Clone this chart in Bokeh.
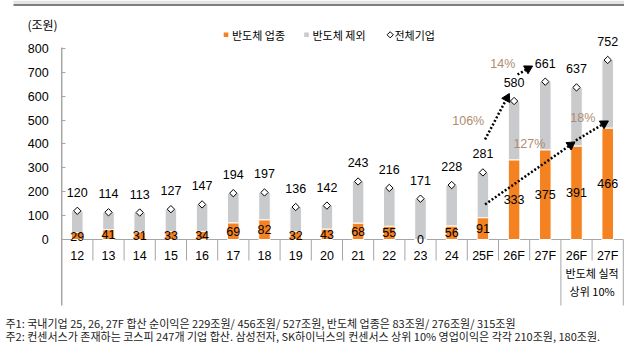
import numpy as np
from bokeh.plotting import figure
from bokeh.models import Range1d, FixedTicker, ColumnDataSource
from bokeh.core.properties import value
from bokeh.embed import file_html
from bokeh.resources import INLINE

# ---------------- data ----------------
categories = ["12", "13", "14", "15", "16", "17", "18", "19", "20", "21", "22", "23", "24",
              "25F", "26F", "27F", "26F", "27F"]
semi = [29, 41, 31, 33, 34, 69, 82, 32, 43, 68, 55, 0, 56, 91, 333, 375, 391, 466]
total = [120, 114, 113, 127, 147, 194, 197, 136, 142, 243, 216, 171, 228, 281, 580, 661, 637, 752]
y_ticks = [0, 100, 200, 300, 400, 500, 600, 700, 800]
legend_labels = ["반도체 업종", "반도체 제외", "전체기업"]
unit_label = "(조원)"
group_label = ["반도체 실적", "상위 10%"]
group_first = 16          # index of first category of the "top 10%" group
group_last = 17
growth_labels = ["106%", "14%", "127%", "18%"]
growth_x = [13.03, 14.14, 14.99, 16.70]
growth_y = [498, 737, 402, 507]
arrow_x0 = [13.57, 14.61, 13.57, 16.48]
arrow_y0 = [419, 691, 147, 415]
arrow_x1 = [14.33, 15.06, 16.42, 17.49]
arrow_y1 = [607, 724, 406, 494]
notes = [
    "주1: 국내기업 25, 26, 27F 합산 순이익은 229조원/ 456조원/ 527조원, 반도체 업종은 83조원/ 276조원/ 315조원",
    "주2: 컨센서스가 존재하는 코스피 247개 기업 합산. 삼성전자, SK하이닉스의 컨센서스 상위 10% 영업이익은 각각 210조원, 180조원.",
]

# ---------------- style / layout ----------------
ORANGE = "#F58220"
GRAY = "#C9CACC"
AXIS = "#A6A6A6"
TAN = "#B08C6E"
NUM_FONT = value("Liberation Sans")
KR_FONT = value("Noto Sans CJK KR")

W, H = 624, 344
X0_PX, CAT_PX = 61.2, 31.2        # pixel of category-axis origin, pixels per category
Y0_PX, VAL_PX = 239.0, 0.23876    # pixel of value 0, pixels per unit


def px2x(px):
    return (px - X0_PX) / CAT_PX


def px2y(py):
    return (Y0_PX - py) / VAL_PX


n = len(categories)
p = figure(width=W, height=H, output_backend="svg", toolbar_location=None,
           x_range=Range1d(px2x(0), px2x(W)), y_range=Range1d(px2y(H), px2y(0)),
           min_border=0, min_border_left=0, min_border_right=0,
           min_border_top=0, min_border_bottom=0)
p.grid.visible = False
p.outline_line_color = None
p.background_fill_color = "white"
p.border_fill_color = "white"

# decorative header rule
p.quad(left=[px2x(13)], right=[px2x(W)], top=[px2y(0)], bottom=[px2y(3.5)],
       fill_color="#E4E4E4", line_color=None)
p.quad(left=[px2x(13)], right=[px2x(W)], top=[px2y(3.5)], bottom=[px2y(5.5)],
       fill_color="#7F7F7F", line_color=None)

axis_bottom = px2y(305)

# y axis (library axis fixed at x = 0)
ya = p.yaxis[0]
ya.fixed_location = 0
ya.ticker = FixedTicker(ticks=y_ticks)
ya.axis_line_color = None
ya.major_tick_line_color = AXIS
ya.major_tick_line_width = 1
ya.major_tick_in = 4
ya.major_tick_out = 0
ya.minor_tick_line_color = None
ya.major_label_standoff = 13
ya.major_label_text_font = "Liberation Sans"
ya.major_label_text_font_size = "12.5px"
ya.major_label_text_color = "black"
p.segment(x0=[0], y0=[axis_bottom], x1=[0], y1=[max(y_ticks) + 4],
          line_color=AXIS, line_width=1.5)

# x axis (library axis fixed at y = 0)
xs = [i + 0.5 for i in range(n)]
xa = p.xaxis[0]
xa.fixed_location = 0
xa.ticker = FixedTicker(ticks=xs)
xa.major_label_overrides = {x: c for x, c in zip(xs, categories)}
xa.axis_line_color = None
xa.major_tick_line_color = None
xa.minor_tick_line_color = None
xa.major_tick_out = 0
xa.major_tick_in = 0
xa.major_label_standoff = 9
xa.major_label_text_font = "Liberation Sans"
xa.major_label_text_font_size = "12.5px"
xa.major_label_text_color = "black"
p.segment(x0=[0], y0=[0], x1=[n], y1=[0], line_color=AXIS, line_width=1)

# separators between categories
bx = list(range(1, n + 1))
long_set = {group_first, n}
sy1 = [axis_bottom if b in long_set else px2y(260) for b in bx]
p.segment(x0=bx, y0=[0] * len(bx), x1=bx, y1=sy1, line_color=AXIS, line_width=1)

src = ColumnDataSource(dict(x=xs, semi=semi, total=total,
                            semi_mid=[s / 2 for s in semi],
                            semi_txt=[str(s) for s in semi],
                            total_txt=[str(t) for t in total]))

BW = 0.37
p.vbar(x="x", bottom="semi", top="total", width=BW, source=src,
       fill_color=GRAY, line_color="white", line_width=1)
p.vbar(x="x", bottom=0, top="semi", width=BW, source=src,
       fill_color=ORANGE, line_color="white", line_width=1)

p.scatter(x="x", y="total", source=src, marker="square", angle=np.pi / 4, size=5.2,
          fill_color="white", line_color="black", line_width=1)

p.text(x="x", y="total", text="total_txt", source=src, y_offset=-18.5,
       text_align="center", text_baseline="middle", text_font=NUM_FONT,
       text_font_size="12.5px", text_color="black")
p.text(x="x", y="semi_mid", text="semi_txt", source=src,
       text_align="center", text_baseline="middle", text_font=NUM_FONT,
       text_font_size="12.5px", text_color="black")

# growth arrows: dotted shafts + triangular heads
HEAD = 4.0  # px from tip back to head centre
hx, hy, ha, sx1, sy1a = [], [], [], [], []
for x0, y0, x1, y1 in zip(arrow_x0, arrow_y0, arrow_x1, arrow_y1):
    dxp = (x1 - x0) * CAT_PX
    dyp = (y1 - y0) * VAL_PX
    L = np.hypot(dxp, dyp)
    ux, uy = dxp / L, dyp / L
    hx.append(x1 - ux * HEAD / CAT_PX)
    hy.append(y1 - uy * HEAD / VAL_PX)
    ha.append(np.arctan2(dyp, dxp) - np.pi / 2)
    sx1.append(x1 - ux * 6 / CAT_PX)
    sy1a.append(y1 - uy * 6 / VAL_PX)
p.segment(x0=arrow_x0, y0=arrow_y0, x1=sx1, y1=sy1a, line_color="black",
          line_width=2.5, line_dash="2 2")
p.scatter(x=hx, y=hy, angle=ha, marker="triangle", size=9,
          fill_color="black", line_color="black", line_width=1)
p.text(x=growth_x, y=growth_y, text=growth_labels, text_align="center",
       text_baseline="middle", text_font=NUM_FONT, text_font_size="12.5px", text_color=TAN)

# group label below the axis
gx = (group_first + group_last + 1) / 2
p.text(x=[gx, gx], y=[px2y(272), px2y(290)], text=group_label, text_align="center",
       text_baseline="middle", text_font=KR_FONT, text_font_size="11px", text_color="black")

# unit label
p.text(x=[px2x(42)], y=[px2y(24)], text=[unit_label], text_align="center",
       text_baseline="middle", text_font=KR_FONT, text_font_size="12px", text_color="black")

# legend (drawn with glyphs)
leg_y = px2y(34.3)
p.scatter(x=[px2x(225.5), px2x(306)], y=[leg_y, leg_y], marker="square", size=4.6,
          fill_color=[ORANGE, GRAY], line_color=None)
p.scatter(x=[px2x(389.7)], y=[leg_y], marker="square", angle=np.pi / 4, size=4.4,
          fill_color="white", line_color="black", line_width=1)
p.text(x=[px2x(231.5), px2x(312), px2x(394)], y=[leg_y] * 3, text=legend_labels,
       text_align="left", text_baseline="middle", text_font=KR_FONT,
       text_font_size="11px", text_color="black")

# footnotes
p.text(x=[px2x(5)] * 2, y=[px2y(322), px2y(335)], text=notes, text_align="left",
       text_baseline="middle", text_font=KR_FONT, text_font_size="11px",
       text_color="#222222")

open("out.html", "w").write(file_html(p, INLINE))
